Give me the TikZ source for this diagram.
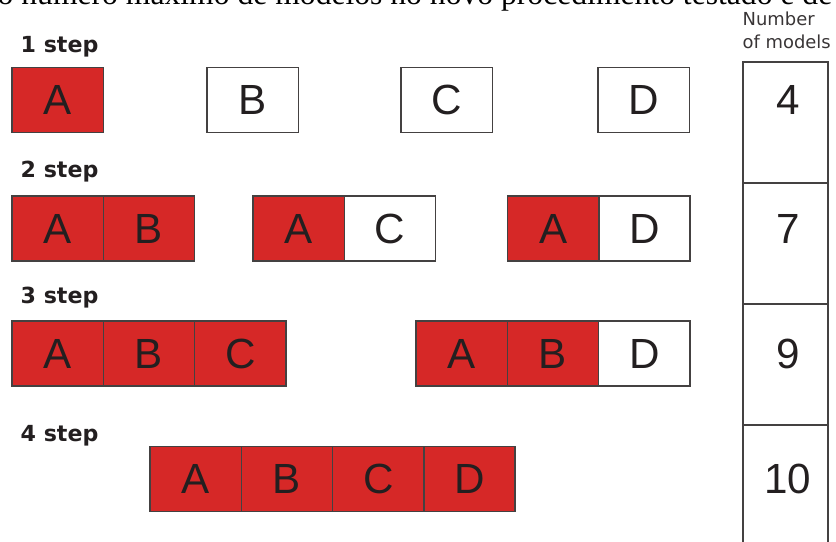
\documentclass[tikz,border=0pt]{standalone}
\usepackage{fontspec}
\setmainfont{Liberation Sans}
\newfontfamily\stepfont{DejaVu Sans}
\newfontfamily\captionserif{Liberation Serif}
\usetikzlibrary{positioning}
\definecolor{modelred}{RGB}{214,40,39}
\definecolor{inkgray}{RGB}{35,31,32}

\begin{document}
\begin{tikzpicture}[
      cell/.style={draw=inkgray!85, line width=0.45pt, minimum width=0.913cm,
        minimum height=0.65cm, inner sep=0pt, text=inkgray,
        font=\fontsize{12}{14}\selectfont},
      redcell/.style={cell, fill=modelred},
      whitecell/.style={cell, fill=white},
      steplabel/.style={anchor=base west, inner sep=0pt, text=inkgray,
        font=\stepfont\bfseries\fontsize{6.3}{7.5}\selectfont},
      colhead/.style={anchor=base west, inner sep=0pt, text=inkgray!90,
        font=\stepfont\fontsize{5.1}{6}\selectfont},
      countcell/.style={draw=inkgray!85, line width=0.45pt, minimum width=0.85cm,
        minimum height=1.21cm, inner sep=0pt},
      count/.style={text=inkgray, font=\fontsize{12}{14}\selectfont},
    ]
    \useasboundingbox (0,0) rectangle (8.36,-5.42);

    % Cut-off line of the page above
    \node[anchor=base west, inner sep=0pt, font=\captionserif\fontsize{9}{10}\selectfont]
      (fragment) at (-0.03,-0.045)
      {o número máximo de modelos no novo procedimento testado e de};

    % Step labels
    \foreach \y/\n in {-0.52/1, -1.77/2, -3.03/3, -4.41/4}
      \node[steplabel] (step\n) at (0.20,\y) {\n\ step};

    % 1 step
    \foreach \x/\name/\kind in {0.577/A/redcell, 2.527/B/whitecell,
                                4.467/C/whitecell, 6.437/D/whitecell}
      \node[\kind] (s1-\name) at (\x,-1.00) {\name};

    % 2 step
    \foreach \x/\g/\name/\kind in {0.577/ab/A/redcell, 1.490/ab/B/redcell,
                                   2.987/ac/A/redcell, 3.900/ac/C/whitecell,
                                   5.532/ad/A/redcell, 6.445/ad/D/whitecell}
      \node[\kind] (s2\g-\name) at (\x,-2.285) {\name};

    % 3 step
    \foreach \x/\g/\name/\kind in {0.577/abc/A/redcell, 1.490/abc/B/redcell,
                                   2.403/abc/C/redcell, 4.617/abd/A/redcell,
                                   5.530/abd/B/redcell, 6.443/abd/D/whitecell}
      \node[\kind] (s3\g-\name) at (\x,-3.535) {\name};

    % 4 step
    \foreach \x/\name in {1.957/A, 2.870/B, 3.783/C, 4.696/D}
      \node[redcell] (s4-\name) at (\x,-4.79) {\name};

    % Number of models column
    \node[colhead] (numhead) at (7.42,-0.25) {Number};
    \node[colhead] (ofhead) at (7.42,-0.48) {of models};
    \foreach \i/\yc/\y/\n in {1/-1.225/-1.00/4, 2/-2.435/-2.285/7,
                              3/-3.645/-3.535/9, 4/-4.855/-4.79/10} {
      \node[countcell] (cnt\i) at (7.855,\yc) {};
      \node[count] (num\i) at (7.88,\y) {\n};
    }
  \end{tikzpicture}
\end{document}
